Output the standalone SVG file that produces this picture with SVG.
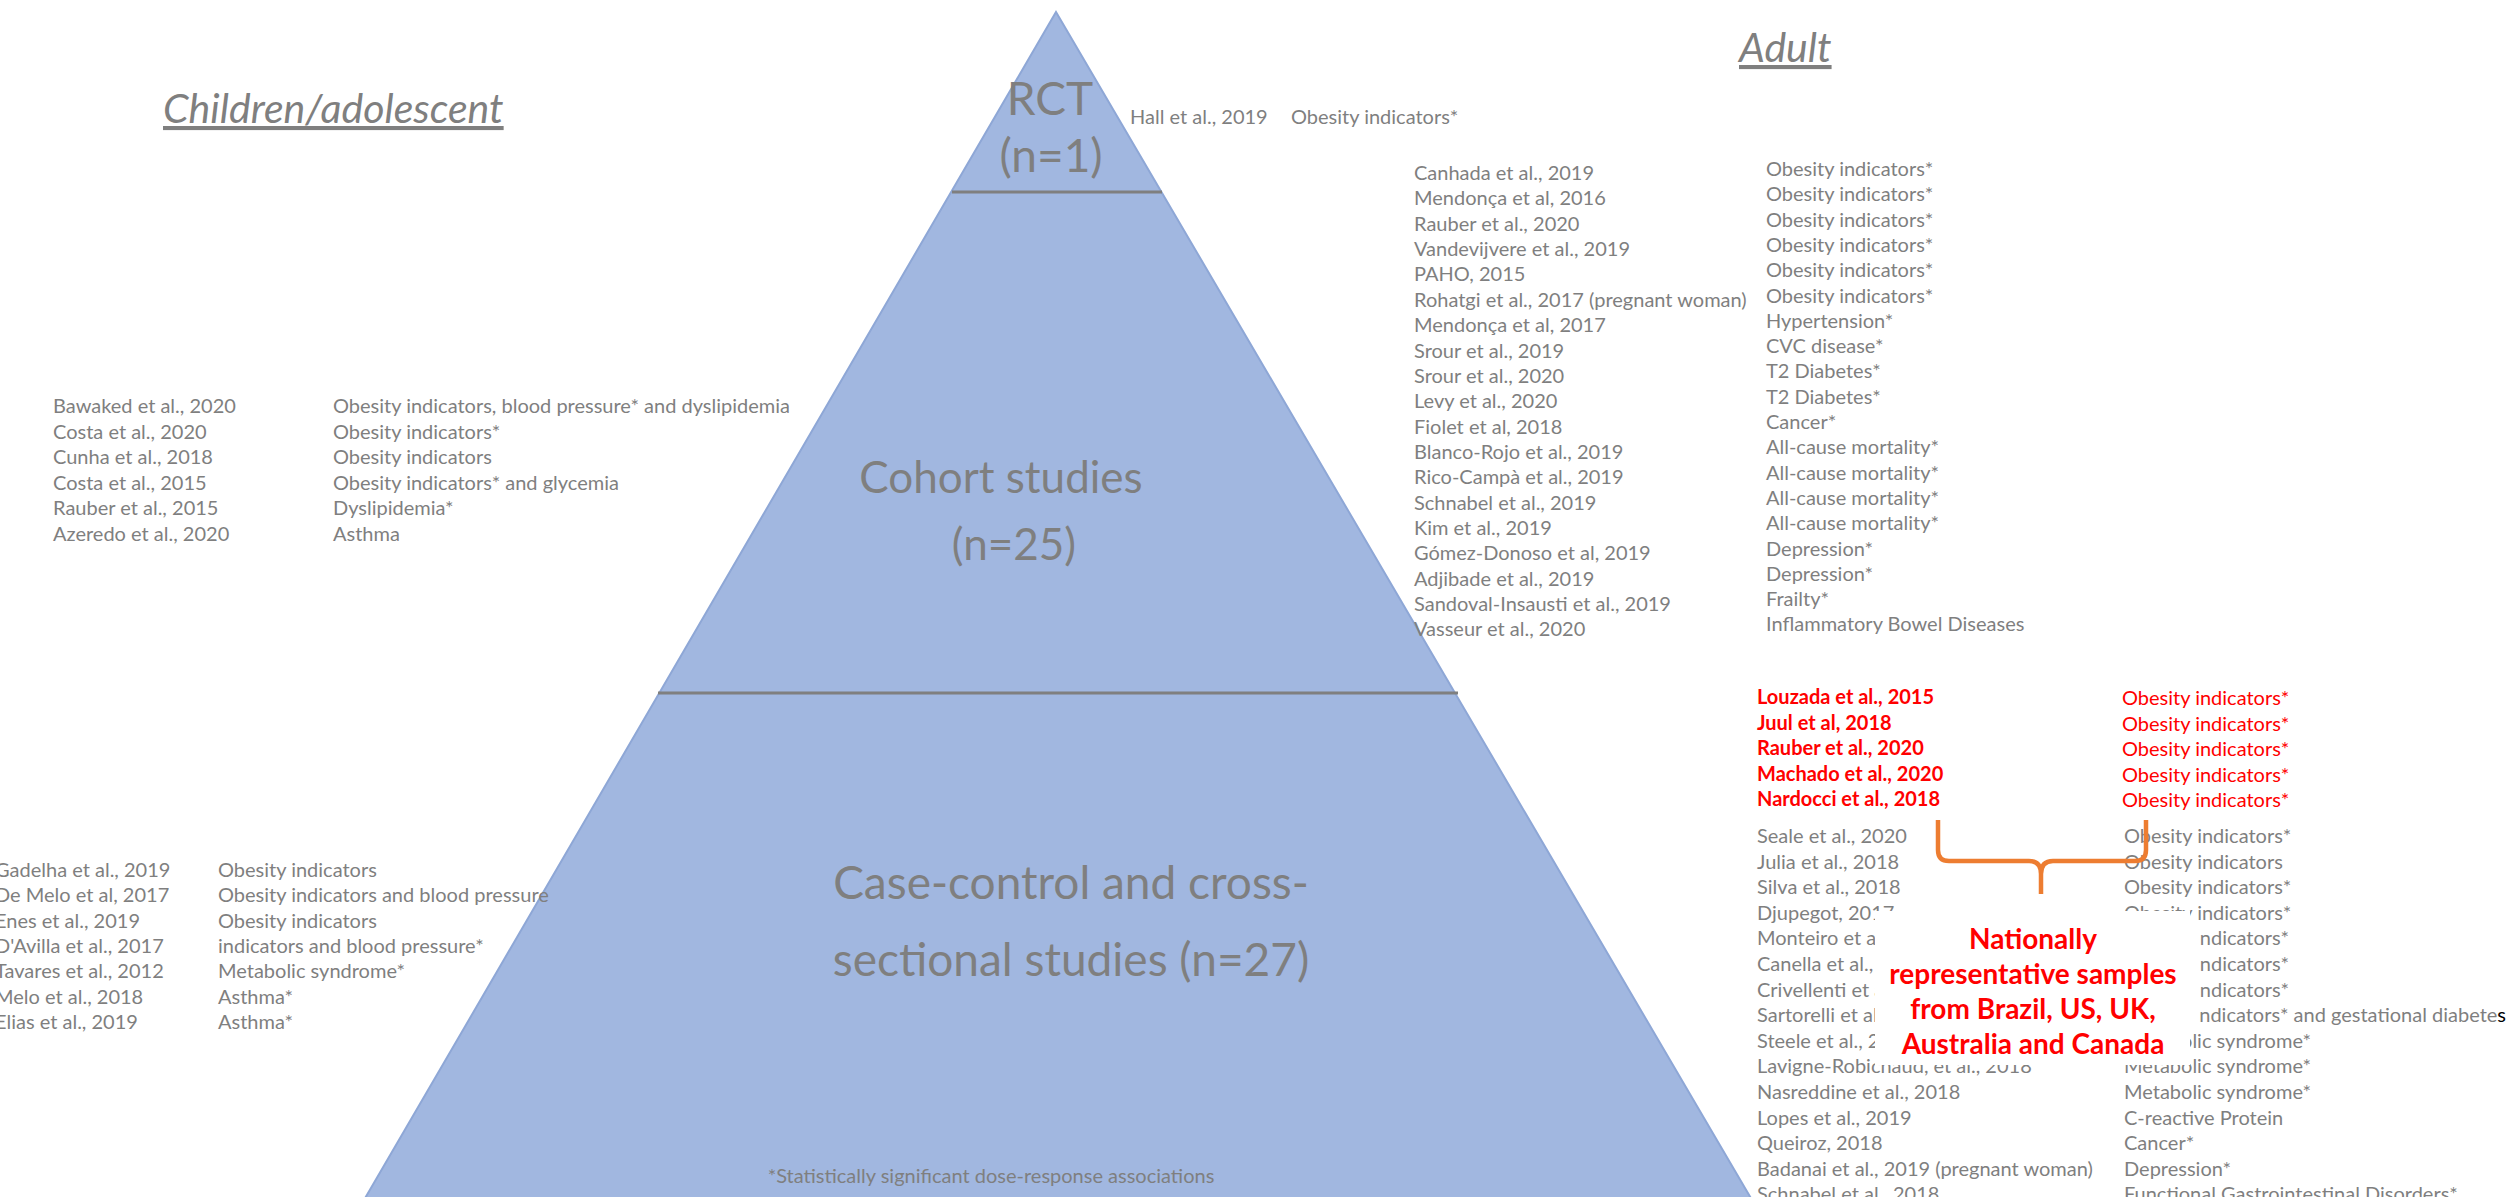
<svg xmlns="http://www.w3.org/2000/svg" width="2514" height="1197" viewBox="0 0 2514 1197">
<style>
text{font-family:Lato,"Liberation Sans",sans-serif}
.t{font-size:20px;fill:#7f7f7f}
.r{font-size:20px;fill:#ff0000}
.rb{font-size:20px;fill:#ff0000;font-weight:bold}
.lvl{fill:#7f7f7f;text-anchor:middle}
.title{font-size:41px;fill:#7f7f7f;font-style:italic;text-decoration:underline}
.nat{font-size:28px;fill:#ff0000;font-weight:bold;text-anchor:middle}
.sep{stroke:#7f7f7f;stroke-width:3}
</style>
<rect width="2514" height="1197" fill="#ffffff"/>

<g id="pyramid">
<polygon points="1056,12 1752,1200 364,1200" fill="#a1b7e0" stroke="#8ea7d6" stroke-width="2"/>
<line class="sep" x1="952" y1="192" x2="1162" y2="192"/>
<line class="sep" x1="658" y1="693" x2="1458" y2="693"/>
</g>

<g id="titles">
<text class="title" x="163" y="123">Children/adolescent</text>
<text class="title" x="1739" y="62">Adult</text>
</g>

<g id="children-cohort">
<text class="t" x="53" y="413">Bawaked et al., 2020</text>
<text class="t" x="53" y="438.6">Costa et al., 2020</text>
<text class="t" x="53" y="464.2">Cunha et al., 2018</text>
<text class="t" x="53" y="489.8">Costa et al., 2015</text>
<text class="t" x="53" y="515.4">Rauber et al., 2015</text>
<text class="t" x="53" y="541">Azeredo et al., 2020</text>
<text class="t" x="333" y="413">Obesity indicators, blood pressure* and dyslipidemia</text>
<text class="t" x="333" y="438.6">Obesity indicators*</text>
<text class="t" x="333" y="464.2">Obesity indicators</text>
<text class="t" x="333" y="489.8">Obesity indicators* and glycemia</text>
<text class="t" x="333" y="515.4">Dyslipidemia*</text>
<text class="t" x="333" y="541">Asthma</text>
</g>

<g id="adult-rct">
<text class="t" x="1130" y="124">Hall et al., 2019</text>
<text class="t" x="1291" y="124">Obesity indicators*</text>
</g>

<g id="adult-cohort">
<text class="t" x="1414" y="180">Canhada et al., 2019</text>
<text class="t" x="1414" y="205.4">Mendonça et al, 2016</text>
<text class="t" x="1414" y="230.7">Rauber et al., 2020</text>
<text class="t" x="1414" y="256.1">Vandevijvere et al., 2019</text>
<text class="t" x="1414" y="281.4">PAHO, 2015</text>
<text class="t" x="1414" y="306.8">Rohatgi et al., 2017 (pregnant woman)</text>
<text class="t" x="1414" y="332.1">Mendonça et al, 2017</text>
<text class="t" x="1414" y="357.5">Srour et al., 2019</text>
<text class="t" x="1414" y="382.8">Srour et al., 2020</text>
<text class="t" x="1414" y="408.2">Levy et al., 2020</text>
<text class="t" x="1414" y="433.5">Fiolet et al, 2018</text>
<text class="t" x="1414" y="458.9">Blanco-Rojo et al., 2019</text>
<text class="t" x="1414" y="484.2">Rico-Campà et al., 2019</text>
<text class="t" x="1414" y="509.6">Schnabel et al., 2019</text>
<text class="t" x="1414" y="534.9">Kim et al., 2019</text>
<text class="t" x="1414" y="560.3">Gómez-Donoso et al, 2019</text>
<text class="t" x="1414" y="585.6">Adjibade et al., 2019</text>
<text class="t" x="1414" y="611">Sandoval-Insausti et al., 2019</text>
<text class="t" x="1414" y="636.3">Vasseur et al., 2020</text>
<text class="t" x="1766" y="176">Obesity indicators*</text>
<text class="t" x="1766" y="201.3">Obesity indicators*</text>
<text class="t" x="1766" y="226.6">Obesity indicators*</text>
<text class="t" x="1766" y="251.9">Obesity indicators*</text>
<text class="t" x="1766" y="277.2">Obesity indicators*</text>
<text class="t" x="1766" y="302.5">Obesity indicators*</text>
<text class="t" x="1766" y="327.8">Hypertension*</text>
<text class="t" x="1766" y="353.1">CVC disease*</text>
<text class="t" x="1766" y="378.4">T2 Diabetes*</text>
<text class="t" x="1766" y="403.7">T2 Diabetes*</text>
<text class="t" x="1766" y="429">Cancer*</text>
<text class="t" x="1766" y="454.3">All-cause mortality*</text>
<text class="t" x="1766" y="479.6">All-cause mortality*</text>
<text class="t" x="1766" y="504.9">All-cause mortality*</text>
<text class="t" x="1766" y="530.2">All-cause mortality*</text>
<text class="t" x="1766" y="555.5">Depression*</text>
<text class="t" x="1766" y="580.8">Depression*</text>
<text class="t" x="1766" y="606.1">Frailty*</text>
<text class="t" x="1766" y="631.4">Inflammatory Bowel Diseases</text>
</g>

<g id="adult-cross-national">
<text class="rb" x="1757" y="704">Louzada et al., 2015</text>
<text class="rb" x="1757" y="729.5">Juul et al, 2018</text>
<text class="rb" x="1757" y="755">Rauber et al., 2020</text>
<text class="rb" x="1757" y="780.5">Machado et al., 2020</text>
<text class="rb" x="1757" y="806">Nardocci et al., 2018</text>
<text class="r" x="2122" y="705">Obesity indicators*</text>
<text class="r" x="2122" y="730.5">Obesity indicators*</text>
<text class="r" x="2122" y="756">Obesity indicators*</text>
<text class="r" x="2122" y="781.5">Obesity indicators*</text>
<text class="r" x="2122" y="807">Obesity indicators*</text>
</g>

<g id="adult-cross">
<text class="t" x="1757" y="843">Seale et al., 2020</text>
<text class="t" x="1757" y="868.6">Julia et al., 2018</text>
<text class="t" x="1757" y="894.2">Silva et al., 2018</text>
<text class="t" x="1757" y="919.8">Djupegot, 2017</text>
<text class="t" x="1757" y="945.4">Monteiro et a</text>
<text class="t" x="1757" y="971">Canella et al.,</text>
<text class="t" x="1757" y="996.6">Crivellenti et a</text>
<text class="t" x="1757" y="1022.2">Sartorelli et al</text>
<text class="t" x="1757" y="1047.8">Steele et al., 2</text>
<text class="t" x="1757" y="1073.4">Lavigne-Robichaud, et al., 2018</text>
<text class="t" x="1757" y="1099">Nasreddine et al., 2018</text>
<text class="t" x="1757" y="1124.6">Lopes et al., 2019</text>
<text class="t" x="1757" y="1150.2">Queiroz, 2018</text>
<text class="t" x="1757" y="1175.8">Badanai et al., 2019 (pregnant woman)</text>
<text class="t" x="1757" y="1201.4">Schnabel et al., 2018</text>
<text class="t" x="2124" y="843">Obesity indicators*</text>
<text class="t" x="2124" y="868.6">Obesity indicators</text>
<text class="t" x="2124" y="894.2">Obesity indicators*</text>
<text class="t" x="2124" y="919.8">Obesity indicators*</text>
<text class="t" x="2289" y="945.4" text-anchor="end">ndicators*</text>
<text class="t" x="2289" y="971" text-anchor="end">ndicators*</text>
<text class="t" x="2289" y="996.6" text-anchor="end">ndicators*</text>
<text class="t" x="2506" y="1022.2" text-anchor="end">ndicators* and gestational diabete<tspan fill="#000000">s</tspan></text>
<text class="t" x="2124" y="1047.8">Metabolic syndrome*</text>
<text class="t" x="2124" y="1073.4">Metabolic syndrome*</text>
<text class="t" x="2124" y="1099">Metabolic syndrome*</text>
<text class="t" x="2124" y="1124.6">C-reactive Protein</text>
<text class="t" x="2124" y="1150.2">Cancer*</text>
<text class="t" x="2124" y="1175.8">Depression*</text>
<text class="t" x="2124" y="1201.4">Functional Gastrointestinal Disorders*</text>
</g>

<g id="children-cross">
<text class="t" x="-5" y="877">Gadelha et al., 2019</text>
<text class="t" x="-5" y="902.3">De Melo et al, 2017</text>
<text class="t" x="-5" y="927.6">Enes et al., 2019</text>
<text class="t" x="-5" y="952.9">D'Avilla et al., 2017</text>
<text class="t" x="-5" y="978.2">Tavares et al., 2012</text>
<text class="t" x="-5" y="1003.5">Melo et al., 2018</text>
<text class="t" x="-5" y="1028.8">Elias et al., 2019</text>
<text class="t" x="218" y="877">Obesity indicators</text>
<text class="t" x="218" y="902.3">Obesity indicators and blood pressure</text>
<text class="t" x="218" y="927.6">Obesity indicators</text>
<text class="t" x="218" y="952.9">indicators and blood pressure*</text>
<text class="t" x="218" y="978.2">Metabolic syndrome*</text>
<text class="t" x="218" y="1003.5">Asthma*</text>
<text class="t" x="218" y="1028.8">Asthma*</text>
</g>

<g id="level-rct">
<text class="lvl" font-size="46" x="1050" y="115">RCT</text>
<text class="lvl" font-size="46" x="1051" y="172">(n=1)</text>
</g>
<g id="level-cohort">
<text class="lvl" font-size="44" x="1001" y="493">Cohort studies</text>
<text class="lvl" font-size="44" x="1014" y="560">(n=25)</text>
</g>
<g id="level-cross">
<text class="lvl" font-size="46" x="1071" y="899">Case-control and cross-</text>
<text class="lvl" font-size="46" x="1071" y="976">sectional studies (n=27)</text>
</g>
<g id="footnote">
<text class="t" x="991" y="1183" text-anchor="middle">*Statistically significant dose-response associations</text>
</g>

<g id="callout">
<rect x="1875" y="911" width="315" height="154" fill="#ffffff"/>
<text class="nat" x="2033" y="949">Nationally</text>
<text class="nat" x="2033" y="984">representative samples</text>
<text class="nat" x="2033" y="1019">from Brazil, US, UK,</text>
<text class="nat" x="2033" y="1054">Australia and Canada</text>
</g>

<g id="connectors">
<path d="M1938,820 L1938,850 Q1938,861 1949,861 L2029,861 Q2041,861 2041,874 L2041,894 M2041,874 Q2041,861 2053,861 L2135,861 Q2146,861 2146,850 L2146,820" fill="none" stroke="#ed7d31" stroke-width="4.5"/>
</g>
</svg>
